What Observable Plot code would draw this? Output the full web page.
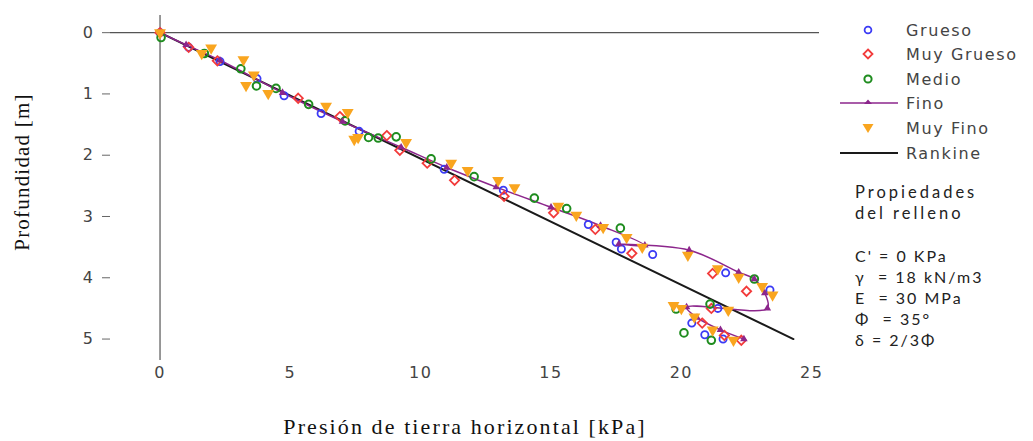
<!DOCTYPE html>
<html><head><meta charset="utf-8">
<script src="https://cdn.jsdelivr.net/npm/d3@7"></script>
<script src="https://cdn.jsdelivr.net/npm/@observablehq/plot@0.6"></script>
<style>
body{margin:0;background:#fff;}
#wrap{position:relative;width:1033px;height:441px;overflow:hidden;}
.row{position:absolute;left:838px;height:24px;display:flex;align-items:center;}
.row svg{width:62px;height:24px;}
.row span{margin-left:6px;font-family:"DejaVu Sans",sans-serif;font-size:16px;letter-spacing:1.6px;color:#444;}
#props{position:absolute;left:855px;top:182px;font-family:Lato,"Open Sans",sans-serif;font-size:16px;letter-spacing:2px;color:#222;line-height:21px;}
#props .hd{letter-spacing:3px;font-size:16.5px;}
</style></head><body><div id="wrap"></div>
<script>
// Serie: [presión horizontal kPa, profundidad m]
const grueso = [[0,0],[1.1,0.24],[2.3,0.47],[3.72,0.75],[4.76,1.03],[6.18,1.32],[7.64,1.61],[10.9,2.23],[13.17,2.57],[16.43,3.13],[17.5,3.42],[17.7,3.53],[18.9,3.62],[21.7,3.92],[23.4,4.2],[21.4,4.5],[20.4,4.74],[20.9,4.93],[21.6,5.0]];
const muyGrueso = [[0,0],[1.1,0.24],[2.2,0.46],[5.3,1.07],[6.9,1.37],[8.7,1.68],[9.2,1.92],[10.25,2.13],[11.3,2.41],[13.2,2.67],[15.1,2.94],[16.7,3.21],[18.1,3.6],[21.2,3.93],[22.5,4.22],[21.15,4.5],[20.8,4.74],[21.65,4.94],[22.3,5.02]];
const medio = [[0.04,0.08],[1.7,0.34],[3.1,0.59],[3.7,0.87],[4.45,0.91],[5.7,1.17],[7.1,1.44],[8.0,1.71],[8.37,1.72],[9.06,1.7],[10.4,2.06],[12.05,2.35],[14.36,2.7],[15.6,2.87],[17.66,3.19],[22.8,4.02],[21.1,4.43],[19.8,4.51],[20.1,4.9],[21.15,5.02]];
const fino = [[0,0],[1.0,0.2],[2.3,0.45],[4.7,0.98],[7.0,1.45],[9.25,1.87],[11.0,2.2],[12.9,2.52],[15.0,2.85],[16.9,3.15],[18.6,3.47],[17.6,3.45],[20.3,3.55],[22.2,3.91],[22.8,4.02],[23.2,4.25],[23.3,4.5],[20.2,4.48],[20.6,4.65],[21.5,4.85],[22.4,5.0]];
const muyFino = [[0,0],[1.6,0.34],[1.96,0.25],[3.2,0.44],[3.6,0.69],[3.3,0.86],[4.15,0.99],[6.37,1.2],[7.2,1.3],[7.45,1.74],[7.6,1.71],[9.44,1.79],[11.17,2.13],[11.8,2.25],[12.97,2.41],[13.6,2.53],[15.28,2.83],[15.97,2.98],[17.0,3.18],[17.9,3.34],[18.5,3.5],[20.25,3.63],[21.4,3.85],[22.2,3.99],[23.1,4.14],[23.5,4.28],[19.7,4.45],[20.0,4.5],[21.8,4.53],[20.5,4.64],[21.2,4.85],[22.0,5.02]];
const rankine = [[0,0],[24.3,5.0]];
const xTicks = [0,5,10,15,20,25];
const yTicks = [0,1,2,3,4,5];
const xLabel = "Presi\u00f3n de tierra horizontal [kPa]";
const yLabel = "Profundidad [m]";
const seriesNames = ["Grueso","Muy Grueso","Medio","Fino","Muy Fino","Rankine"];
const colors = {"Grueso":"#3b3bf5","Muy Grueso":"#f23b3b","Medio":"#1e8c1e","Fino":"#8c268c","Muy Fino":"#f9a51f","Rankine":"#1a1a1a"};
const propsHead = ["Propiedades","del relleno"];
const props = ["C' = 0 KPa","\u03b3  = 18 kN/m3","E  = 30 MPa","\u03a6  = 35\u00b0","\u03b4 = 2/3\u03a6"];

const X = d => d[0], Y = d => d[1];
const plot = Plot.plot({
  width: 1033, height: 441,
  marginLeft: 110, marginRight: 214, marginTop: 15, marginBottom: 81,
  x: {domain: [-1.9, 25.3]},
  y: {domain: [-0.28, 5.35], reverse: true},
  style: {fontFamily: "'DejaVu Sans', sans-serif", fontSize: "16px", color: "#444", background: "#fff"},
  marks: [
    Plot.axisY(yTicks, {tickSize: 8, tickPadding: 8, tickFormat: d => String(d), label: null, stroke: "#666", fill: "#444"}),
    Plot.axisX(xTicks, {tickSize: 0, tickPadding: 6, tickFormat: d => String(d), label: null, fill: "#444"}),
    Plot.ruleY([0], {stroke: "#555", strokeWidth: 1.2}),
    Plot.ruleX([0], {stroke: "#555", strokeWidth: 1.2}),
    Plot.line(rankine, {x: X, y: Y, stroke: colors["Rankine"], strokeWidth: 2}),
    Plot.line(fino, {x: X, y: Y, stroke: colors["Fino"], strokeWidth: 1.5, curve: "catmull-rom"}),
    Plot.dot(grueso, {x: X, y: Y, symbol: "circle", r: 3.6, stroke: colors["Grueso"], strokeWidth: 1.8}),
    Plot.dot(muyGrueso, {x: X, y: Y, symbol: "diamond2", r: 4.2, stroke: colors["Muy Grueso"], strokeWidth: 1.8}),
    Plot.dot(medio, {x: X, y: Y, symbol: "circle", r: 3.8, stroke: colors["Medio"], strokeWidth: 2}),
    Plot.dot(fino, {x: X, y: Y, symbol: "triangle", r: 2.8, fill: colors["Fino"], stroke: "none"}),
    Plot.dot(muyFino, {x: X, y: Y, symbol: "triangle", rotate: 180, r: 4.4, fill: colors["Muy Fino"], stroke: "none"}),
    Plot.text([xLabel], {frameAnchor: "bottom", dy: 73, fontFamily: "'Liberation Serif', serif", fontSize: 22, fill: "#111"}),
    Plot.text([yLabel], {frameAnchor: "left", textAnchor: "middle", dx: -88, dy: -16, rotate: -90, fontFamily: "'Liberation Serif', serif", fontSize: 21, fill: "#111"})
  ]
});
// letter spacing for axis titles and tick labels (wide rendering in reference)
plot.querySelectorAll("text").forEach(t => {
  const s = t.textContent;
  if (s === xLabel) t.style.letterSpacing = "2.1px";
  else if (s === yLabel) t.style.letterSpacing = "1.2px";
  else if (/^\d+$/.test(s)) t.style.letterSpacing = "1.5px";
});
const wrap = document.getElementById("wrap");
wrap.appendChild(plot);

// Legend
const rowsY = [18, 42, 67, 91, 116, 141];
const legendHtml = seriesNames.map((n, i) => {
  const c = colors[n];
  let icon = "";
  if (n === "Grueso") icon = `<circle cx="30" cy="12" r="3.4" fill="none" stroke="${c}" stroke-width="1.8"/>`;
  if (n === "Muy Grueso") icon = `<path d="M30 7.5 L34.5 12 L30 16.5 L25.5 12 Z" fill="none" stroke="${c}" stroke-width="1.8"/>`;
  if (n === "Medio") icon = `<circle cx="30" cy="12" r="3.6" fill="none" stroke="${c}" stroke-width="2"/>`;
  if (n === "Fino") icon = `<line x1="2" x2="60" y1="12" y2="12" stroke="${c}" stroke-width="1.5"/><path d="M30 8.5 L34 13 L26 13 Z" fill="${c}"/>`;
  if (n === "Muy Fino") icon = `<path d="M24.5 8 L35.5 8 L30 17 Z" fill="${c}"/>`;
  if (n === "Rankine") icon = `<line x1="2" x2="60" y1="12" y2="12" stroke="${c}" stroke-width="2"/>`;
  return `<div class="row" style="top:${rowsY[i]}px"><svg viewBox="0 0 62 24">${icon}</svg><span>${n}</span></div>`;
}).join("");
const lg = document.createElement("div");
lg.innerHTML = legendHtml;
wrap.appendChild(lg);

const pd = document.createElement("div");
pd.id = "props";
pd.innerHTML = propsHead.map(t => `<div class="hd">${t}</div>`).join("") + "<div>&nbsp;</div>" +
  props.map(t => `<div>${t.replace(/ {2}/g, " &nbsp;")}</div>`).join("");
wrap.appendChild(pd);
</script>
</body></html>
